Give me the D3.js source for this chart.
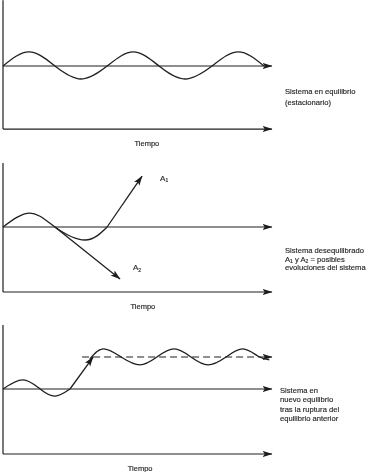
<!DOCTYPE html>
<html><head><meta charset="utf-8">
<script src="https://cdn.jsdelivr.net/npm/d3@7"></script>
<style>body{margin:0;background:#fff}svg{display:block;will-change:transform}text{font-family:"Liberation Sans",Arial,sans-serif;fill:#262626;stroke:#262626;stroke-width:0.15px;-webkit-font-smoothing:antialiased}</style>
</head><body>
<script>
// ---- data (time units 0..10, values relative to equilibrium) ----
const timeDomain = [0, 10];
const axisLabel = "Tiempo";

// Panel 1: stationary oscillation
const wave1T = [0, 0.97, 1.93, 2.9, 3.87, 4.84, 5.8, 6.77, 7.77, 8.74, 9.7];
const wave1V = [0, 1.08, 0, -1, 0, 1.08, 0, -1, 0, 1.08, 0];
const text1 = ["Sistema en equilibrio", "(estacionario)"];

// Panel 2: disequilibrium, A1 (up) and A2 (down)
const wave2T = [0, 1.0, 1.93, 3.05, 3.87];
const wave2V = [0, 1.07, 0, -1, 0];
const a1T = [3.87, 5.17];
const a1V = [0, 3.92];
const a2T = [1.93, 4.35];
const a2V = [0, -4.0];
const text2 = ["Sistema desequilibrado", "A|1| y A|2| = posibles", "evoluciones del sistema"];

// Panel 3: new equilibrium
const wave3T = [0, 0.74, 1.38, 1.93, 2.49];
const wave3V = [0, 0.7, 0, -0.55, 0];
const jumpT = [2.49, 3.35];
const jumpV = [0, 2.46];
const newLevel = 2.46;
const dashT = [2.94, 10];
const upperT = [3.23, 3.72, 4.39, 5.09, 5.72, 6.36, 6.99, 7.62, 8.29, 8.92, 9.5, 9.9];
const upperV = [2.3, 3.08, 2.46, 1.85, 2.46, 3.08, 2.46, 1.85, 2.46, 3.08, 2.5, 2.25];
const text3 = ["Sistema en", "nuevo equilibrio", "tras la ruptura del", "equilibrio anterior"];

// ---- drawing ----
const W = 368, H = 472, UNIT = 13;
const svg = d3.select("body").append("svg").attr("width", W).attr("height", H);
const defs = svg.append("defs");
defs.append("marker").attr("id", "arr").attr("viewBox", "0 -4 10 8")
  .attr("refX", 9.5).attr("refY", 0).attr("markerWidth", 10).attr("markerHeight", 8)
  .attr("markerUnits", "userSpaceOnUse").attr("orient", "auto")
  .append("path").attr("d", "M0,-3.2L10,0L0,3.2L2.2,0Z").attr("fill", "#1c1c1c").attr("stroke", "none");

const x = d3.scaleLinear().domain(timeDomain).range([3, 272]);
const zip = (t, v) => t.map((d, i) => [d, v[i]]);
const ink = "#1f1f1f";

const panels = [
  { base: 66, yDom: [-4.85, 5.05], labelT: 5.35, textX: 285, textY: 94, lh: 11, text: text1 },
  { base: 227, yDom: [-5, 4.92], labelT: 5.2, textX: 285, textY: 253, lh: 8.6, text: text2 },
  { base: 389, yDom: [-5, 4.92], labelT: 5.1, textX: 280, textY: 393, lh: 9.3, text: text3 }
];

panels.forEach(p => {
  p.y = d3.scaleLinear().domain(p.yDom).range([p.base - UNIT * p.yDom[0], p.base - UNIT * p.yDom[1]]);
  p.g = svg.append("g");
  p.line = d3.line().x(d => x(d[0])).y(d => p.y(d[1]));
  const g = p.g, y = p.y;
  g.append("line").attr("x1", x(0)).attr("x2", x(0)).attr("y1", y(p.yDom[1])).attr("y2", y(p.yDom[0]))
    .attr("stroke", ink).attr("stroke-width", 1.2);
  g.append("line").attr("x1", x(0)).attr("x2", x(timeDomain[1])).attr("y1", y(p.yDom[0])).attr("y2", y(p.yDom[0]))
    .attr("stroke", ink).attr("stroke-width", 1.2).attr("marker-end", "url(#arr)");
  g.append("line").attr("x1", x(0)).attr("x2", x(timeDomain[1])).attr("y1", y(0)).attr("y2", y(0))
    .attr("stroke", ink).attr("stroke-width", 1.2).attr("marker-end", "url(#arr)");
  g.append("text").attr("x", x(p.labelT)).attr("y", y(p.yDom[0]) + 17).attr("text-anchor", "middle")
    .attr("font-size", 7.5).text(axisLabel);
  const t = g.append("text").attr("font-size", 7.6);
  p.text.forEach((s, i) => {
    const parts = s.split("|");
    const line = t.append("tspan").attr("x", p.textX).attr("y", p.textY + i * p.lh);
    parts.forEach((part, j) => {
      if (j % 2 === 1) line.append("tspan").attr("font-size", 5).attr("dy", 1.5).text(part);
      else {
        const sp = line.append("tspan").text(part);
        if (j > 0) sp.attr("dy", -1.5);
      }
    });
  });
});

const curveStyle = sel => sel.attr("fill", "none").attr("stroke", ink).attr("stroke-width", 1.3);

// Panel 1
{
  const p = panels[0];
  p.g.append("path").attr("d", p.line.curve(d3.curveNatural)(zip(wave1T, wave1V))).call(curveStyle);
}
// Panel 2
{
  const p = panels[1];
  p.g.append("path").attr("d", p.line.curve(d3.curveNatural)(zip(wave2T, wave2V))).call(curveStyle);
  p.g.append("path").attr("d", p.line.curve(d3.curveLinear)(zip(a1T, a1V))).call(curveStyle).attr("marker-end", "url(#arr)");
  p.g.append("path").attr("d", p.line.curve(d3.curveLinear)(zip(a2T, a2V))).call(curveStyle).attr("marker-end", "url(#arr)");
  const lab = (t, v, sub) => {
    const tx = p.g.append("text").attr("x", x(t)).attr("y", p.y(v) + 3).attr("font-size", 8);
    tx.append("tspan").text("A");
    tx.append("tspan").attr("font-size", 5).attr("dy", 1.5).text(sub);
  };
  lab(5.84, 3.77, "1");
  lab(4.83, -3.08, "2");
}
// Panel 3
{
  const p = panels[2];
  p.g.append("path").attr("d", p.line.curve(d3.curveNatural)(zip(wave3T, wave3V))).call(curveStyle);
  p.g.append("path").attr("d", p.line.curve(d3.curveLinear)(zip(jumpT, jumpV))).call(curveStyle).attr("marker-end", "url(#arr)");
  p.g.append("path").attr("d", p.line.curve(d3.curveLinear)(dashT.map(t => [t, newLevel])))
    .attr("fill", "none").attr("stroke", ink).attr("stroke-width", 1.1).attr("stroke-dasharray", "7,4")
    .attr("marker-end", "url(#arr)");
  p.g.append("path").attr("d", p.line.curve(d3.curveNatural)(zip(upperT, upperV))).call(curveStyle);
}
</script>
</body></html>
